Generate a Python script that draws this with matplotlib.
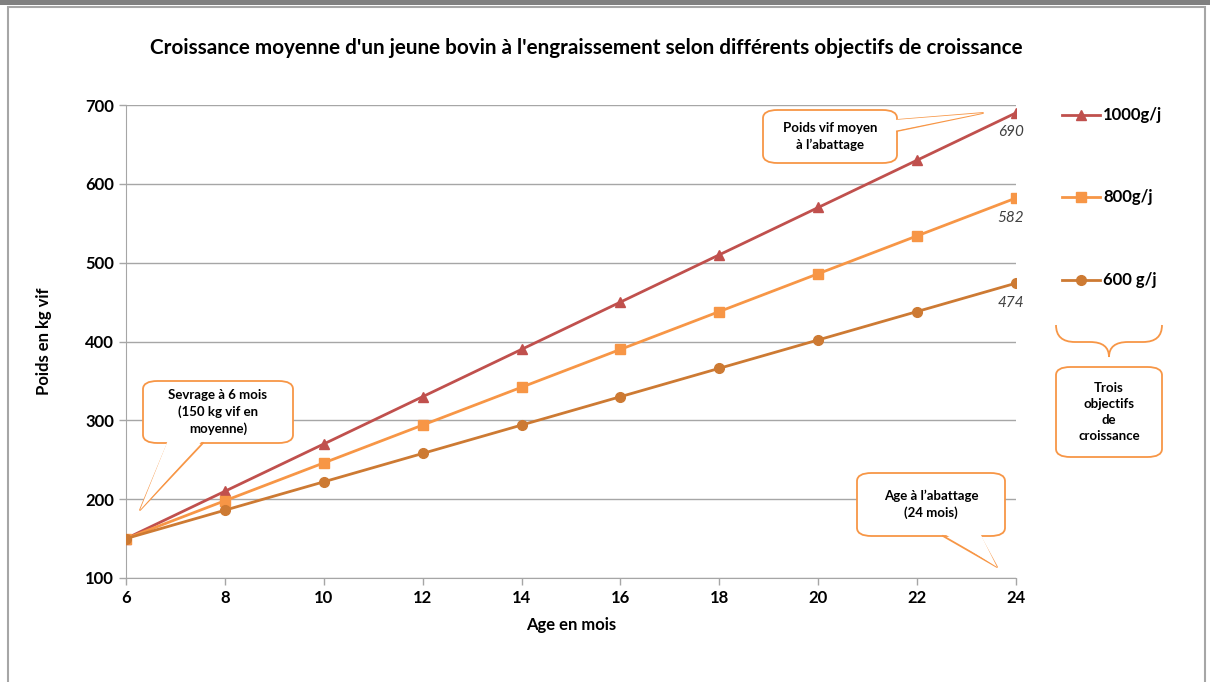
import matplotlib
matplotlib.use('Agg')
import matplotlib.pyplot as plt
from matplotlib.patches import FancyBboxPatch, Polygon, Rectangle
from matplotlib.path import Path
from matplotlib.patches import PathPatch

plt.rcParams['font.family'] = ['Lato', 'DejaVu Sans']

# données
ages = [6, 8, 10, 12, 14, 16, 18, 20, 22, 24]
poids_1000 = [150, 210, 270, 330, 390, 450, 510, 570, 630, 690]
poids_800 = [150, 198, 246, 294, 342, 390, 438, 486, 534, 582]
poids_600 = [150, 186, 222, 258, 294, 330, 366, 402, 438, 474]
noms = ['1000g/j', '800g/j', '600 g/j']
couleurs = ['#C0504D', '#F79646', '#CD7A33']
marqueurs = ['^', 's', 'o']
yticks = [100, 200, 300, 400, 500, 600, 700]

W, H = 1210, 682
fig = plt.figure(figsize=(W / 100, H / 100), dpi=100)


def fx(px):
    return px / W


def fy(py):
    return 1 - py / H


# cadre gris autour du graphique
fig.patches.append(Rectangle((fx(0), fy(5)), 1, 5 / H, transform=fig.transFigure,
                             facecolor='#808080', edgecolor='none'))
fig.patches.append(Rectangle((fx(8), fy(690)), fx(1197), fy(7) - fy(690), transform=fig.transFigure,
                             facecolor='none', edgecolor='#A6A6A6', linewidth=1.5))

ax = fig.add_axes([fx(126), fy(578), fx(1016) - fx(126), fy(105) - fy(578)])

series = [poids_1000, poids_800, poids_600]
for vals, nom, c, m in zip(series, noms, couleurs, marqueurs):
    ax.plot(ages, vals, color=c, marker=m, markersize=7, linewidth=2, label=nom, zorder=3)
    ax.text(ages[-1] - 0.1, vals[-1] - 16, str(vals[-1]), fontsize=11, style='italic',
            color='#404040', ha='center', va='top')

ax.set_xlim(6, 24)
ax.set_ylim(100, 700)
ax.set_xticks(ages)
ax.set_yticks(yticks)
ax.grid(axis='y', color='#A6A6A6', linewidth=1)
ax.set_axisbelow(True)
for s in ['top', 'right']:
    ax.spines[s].set_visible(False)
for s in ['left', 'bottom']:
    ax.spines[s].set_color('#A6A6A6')
ax.tick_params(colors='#A6A6A6', labelcolor='black', length=5, width=1)
for lab in ax.get_xticklabels() + ax.get_yticklabels():
    lab.set_fontweight('bold')
    lab.set_fontsize(12)
ax.set_xlabel('Age en mois', fontsize=12, fontweight='bold', labelpad=8)
ax.set_ylabel('Poids en kg vif', fontsize=12, fontweight='bold', labelpad=24)

fig.text(fx(586), fy(48), "Croissance moyenne d'un jeune bovin à l'engraissement selon différents objectifs de croissance",
         ha='center', va='center', fontsize=14.9, fontweight='bold')

# légende
for i, (nom, c, m) in enumerate(zip(noms, couleurs, marqueurs)):
    yy = [115, 197, 280][i]
    fig.lines.append(plt.Line2D([fx(1062), fx(1100)], [fy(yy), fy(yy)], transform=fig.transFigure,
                                color=c, linewidth=2))
    fig.lines.append(plt.Line2D([fx(1081)], [fy(yy)], transform=fig.transFigure,
                                color=c, marker=m, markersize=7))
    fig.text(fx(1103), fy(yy), nom, fontsize=12, fontweight='bold', va='center', ha='left')

orange = '#F79646'


def bulle(x0, y0, x1, y1, tail, texte, dedans):
    fig.patches.append(FancyBboxPatch((fx(x0), fy(y1)), fx(x1 - x0), fy(y0) - fy(y1),
                                      boxstyle='round,pad=0,rounding_size=0.012',
                                      transform=fig.transFigure, facecolor='white',
                                      edgecolor=orange, linewidth=1.3, zorder=5))
    if tail:
        (ax0, ay0), tip, (ax1, ay1) = tail
        dx, dy = dedans
        fond = [(ax0 + dx, ay0 + dy), tip, (ax1 + dx, ay1 + dy)]
        fig.patches.append(Polygon([(fx(a), fy(b)) for a, b in fond], closed=True,
                                   transform=fig.transFigure, facecolor='white',
                                   edgecolor='none', zorder=6))
        fig.lines.append(plt.Line2D([fx(p[0]) for p in tail], [fy(p[1]) for p in tail],
                                    transform=fig.transFigure, color=orange, linewidth=1.3, zorder=6))
    fig.text(fx((x0 + x1) / 2), fy((y0 + y1) / 2), texte, ha='center', va='center',
             fontsize=9.5, fontweight='bold', linespacing=1.4, zorder=7)


bulle(763, 110, 897, 163, [(897, 120), (983, 113), (897, 131)], "Poids vif moyen\nà l’abattage", (-3, 0))
bulle(143, 381, 293, 443, [(168, 443), (140, 510), (203, 443)], "Sevrage à 6 mois\n(150 kg vif en\nmoyenne)", (0, -3))
bulle(857, 473, 1005, 536, [(943, 536), (997, 567), (980, 536)], "Age à l’abattage\n(24 mois)", (0, -3))
bulle(1056, 367, 1162, 457, None, "Trois\nobjectifs\nde\ncroissance", (0, 0))

# accolade
verts = [(1056, 325), (1056, 342), (1075, 342), (1090, 342), (1109, 342), (1109, 357),
         (1109, 342), (1128, 342), (1143, 342), (1162, 342), (1162, 325)]
codes = [Path.MOVETO, Path.CURVE3, Path.CURVE3, Path.LINETO, Path.CURVE3, Path.CURVE3,
         Path.CURVE3, Path.CURVE3, Path.LINETO, Path.CURVE3, Path.CURVE3]
fig.patches.append(PathPatch(Path([(fx(a), fy(b)) for a, b in verts], codes), transform=fig.transFigure,
                             facecolor='none', edgecolor=orange, linewidth=1.3))

fig.savefig('out.png', dpi=100)
